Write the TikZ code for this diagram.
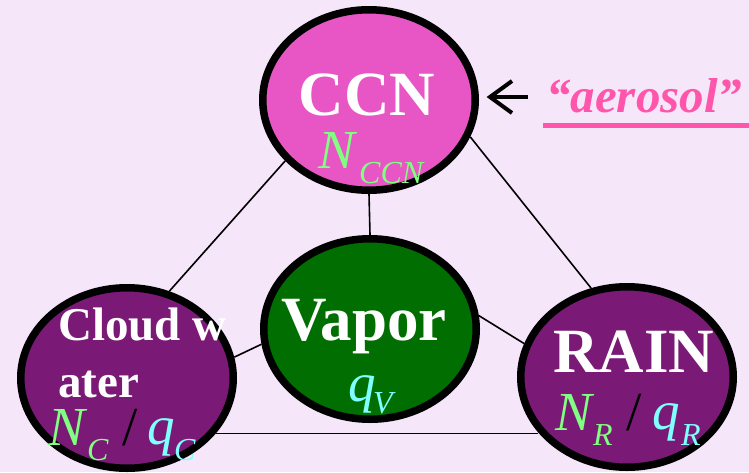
\documentclass[tikz,border=0pt]{standalone}
\usepackage{fontspec}
\setmainfont{Liberation Serif}
\usetikzlibrary{shapes.geometric}
\definecolor{bg}{HTML}{F5E6FA}
\definecolor{ccnfill}{HTML}{E855C5}
\definecolor{purp}{HTML}{7A1A76}
\definecolor{vap}{HTML}{006E00}
\definecolor{lgreen}{HTML}{80FF80}
\definecolor{lcyan}{HTML}{80FFFF}
\definecolor{aer}{HTML}{FF55AA}
\newcommand{\fsz}[1]{\fontsize{#1}{#1}\selectfont}
\begin{document}
\begin{tikzpicture}[x=1pt,y=-1pt,
  blob/.style={ellipse,draw=black,line width=7.5pt,minimum width=212.5pt,minimum height=180.5pt,inner sep=0pt},
  link/.style={draw=black,line width=1.6pt},
  lbl/.style={text=white,inner sep=0pt,anchor=base,font=\bfseries},
  big/.style={inner sep=0pt,anchor=base west,font=\fsz{55}\itshape},
  sub/.style={inner sep=0pt,anchor=base west,font=\fsz{32}\itshape},
  slash/.style={inner sep=0pt,anchor=base west,font=\fsz{55},text=black},
 ]
\fill[bg] (0,0) rectangle (749,472);
\useasboundingbox (0,0) rectangle (749,472);

\node[blob,fill=ccnfill] (ccn) at (369,100) {};
\node[blob,fill=vap] (vapor) at (370,329) {};
\node[blob,fill=purp] (cloud) at (127,378) {};
\node[blob,fill=purp] (rain) at (627,377) {};

\draw[link] (ccn.216) -- (cloud.64);
\draw[link] (ccn.-20) -- (rain.112);
\draw[link] (ccn.270) -- (vapor.90);
\draw[link] (vapor.188.5) -- (cloud.11);
\draw[link] (vapor.7.4) -- (rain.162.4);
\draw[link] (cloud.-32) -- (cloud.-32 -| rain.212);

% CCN
\node[lbl,font=\bfseries\fsz{63}] (ccnt) at (367,115) {CCN};
\node[big,text=lgreen] (nccn) at (318,168) {N};
\node[sub,text=lgreen] (nccns) at (359,183) {CCN};

% Vapor
\node[lbl,font=\bfseries\fsz{63}] (vapt) at (364,340) {Vapor};
\node[big,text=lcyan] (qv) at (348,401) {q};
\node[sub,text=lcyan] (qvs) at (373,413) {V};

% Cloud water
\node[lbl,anchor=base west,font=\bfseries\fsz{47}] (cw1) at (58,340) {Cloud w};
\node[lbl,anchor=base west,font=\bfseries\fsz{47}] (cw2) at (58,397) {ater};
\node[big,text=lgreen] (nc) at (48,445) {N};
\node[sub,text=lgreen] (ncs) at (87,460) {C};
\node[slash] (slc) at (122,445) {/};
\node[big,text=lcyan] (qc) at (147,444) {q};
\node[sub,text=lcyan] (qcs) at (174,460) {C};

% RAIN
\node[lbl,font=\bfseries\fsz{63}] (raint) at (634,372) {RAIN};
\node[big,text=lgreen] (nr) at (555,430) {N};
\node[sub,text=lgreen] (nrs) at (593,445) {R};
\node[slash] (slr) at (626,430) {/};
\node[big,text=lcyan] (qr) at (652,429) {q};
\node[sub,text=lcyan] (qrs) at (681,445) {R};

% aerosol
\node[inner sep=0pt,anchor=base west,text=aer,font=\bfseries\itshape\fsz{49}] (aero) at (546,112) {“aerosol”};
\fill[aer] (543,123) rectangle (749,128);
\coordinate (atail) at (528,97);
\coordinate (atip) at (490,97);
\draw[line width=4pt] (atail) -- (atip);
\draw[line width=4pt,line join=miter] (512,81) -- (atip) -- (512,113);
\end{tikzpicture}
\end{document}
